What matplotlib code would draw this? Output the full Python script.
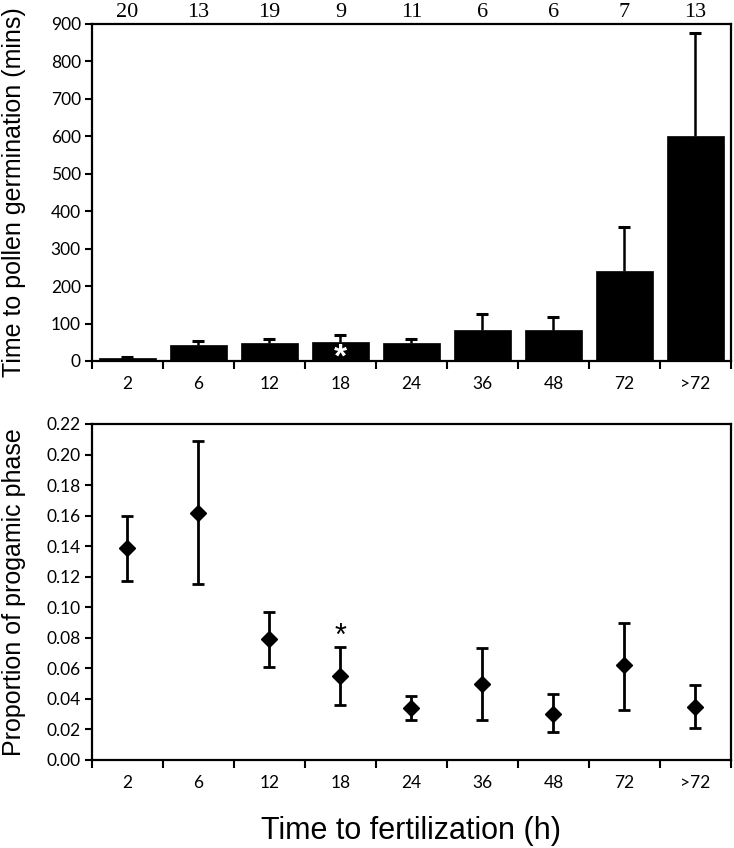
import matplotlib
matplotlib.use("Agg")
import matplotlib.pyplot as plt
import numpy as np

# Kategoriler ve veriler
categories = ["2", "6", "12", "18", "24", "36", "48", "72", ">72"]
n_counts = [20, 13, 19, 9, 11, 6, 6, 7, 13]

germ_mean = [7, 42, 48, 52, 47, 84, 82, 240, 600]
germ_upper = [10, 53, 60, 70, 58, 125, 117, 358, 877]

prog_mean = [0.139, 0.162, 0.079, 0.055, 0.034, 0.050, 0.030, 0.062, 0.035]
prog_low = [0.117, 0.115, 0.061, 0.036, 0.026, 0.026, 0.018, 0.033, 0.021]
prog_high = [0.160, 0.209, 0.097, 0.074, 0.042, 0.073, 0.043, 0.090, 0.049]

tickfont = "Lato"
x = np.arange(len(categories))

fig = plt.figure(figsize=(7.34, 8.48), dpi=100)
ax1 = fig.add_axes([0.1253, 0.5743, 0.8706, 0.3974])
ax2 = fig.add_axes([0.1253, 0.1038, 0.8706, 0.3962])


def style_axis(ax):
    ax.set_xlim(-0.5, 8.5)
    # Excel tarzi: cizgiler kategori sinirlarinda, etiketler ortada
    ax.set_xticks(np.arange(-0.5, 9, 1))
    ax.set_xticks(x, minor=True)
    ax.set_xticklabels([])
    ax.set_xticklabels(categories, minor=True)
    ax.tick_params(axis="x", which="minor", length=0, pad=11)
    ax.tick_params(axis="x", which="major", length=6, width=1.5, direction="out")
    ax.tick_params(axis="y", length=5, width=1.5, direction="out", pad=3)
    for lab in ax.get_xticklabels(minor=True) + ax.get_yticklabels():
        lab.set_family(tickfont)
        lab.set_fontsize(12.5)
    for s in ax.spines.values():
        s.set_linewidth(1.6)


# Ust grafik: cubuklar
ax1.bar(x, germ_mean, width=0.8, color="black", edgecolor="black", linewidth=0.5, zorder=2)
ax1.vlines(x, germ_mean, germ_upper, color="black", linewidth=1.8, zorder=1)
ax1.plot(x, germ_upper, ls="none", marker="_", ms=8, mew=2.2, color="black", zorder=1)
ax1.set_ylim(0, 900)
ax1.set_yticks(range(0, 901, 100))
style_axis(ax1)
ax1.set_ylabel("Time to pollen germination (mins)", fontsize=18, family="Liberation Sans")
ax1.yaxis.set_label_coords(-0.103, 0.5)
for i, n in enumerate(n_counts):
    ax1.text(x[i], 1.006, str(n), transform=ax1.get_xaxis_transform(), ha="center",
             va="bottom", fontsize=16, family="Liberation Serif")
ax1.text(3, 8, "*", color="white", ha="center", va="center", fontsize=24, fontweight="bold",
         family="Liberation Sans", zorder=3)

# Alt grafik: noktalar ve hata cubuklari
lo = np.array(prog_mean) - np.array(prog_low)
hi = np.array(prog_high) - np.array(prog_mean)
ax2.errorbar(x, prog_mean, yerr=[lo, hi], fmt="D", color="black", markersize=8.5,
             elinewidth=2, capsize=4.5, capthick=2)
ax2.set_ylim(0, 0.22)
yt = np.arange(0, 0.2201, 0.02)
ax2.set_yticks(yt)
ax2.set_yticklabels(["%.2f" % v for v in yt])
style_axis(ax2)
ax2.set_ylabel("Proportion of progamic phase", fontsize=18, family="Liberation Sans")
ax2.yaxis.set_label_coords(-0.103, 0.5)
ax2.set_xlabel("Time to fertilization (h)", fontsize=22, family="Liberation Sans", labelpad=18)
ax2.text(3, 0.0805, "*", color="black", ha="center", va="center", fontsize=22,
         family="Liberation Sans")

plt.savefig("out.png", dpi=100)
